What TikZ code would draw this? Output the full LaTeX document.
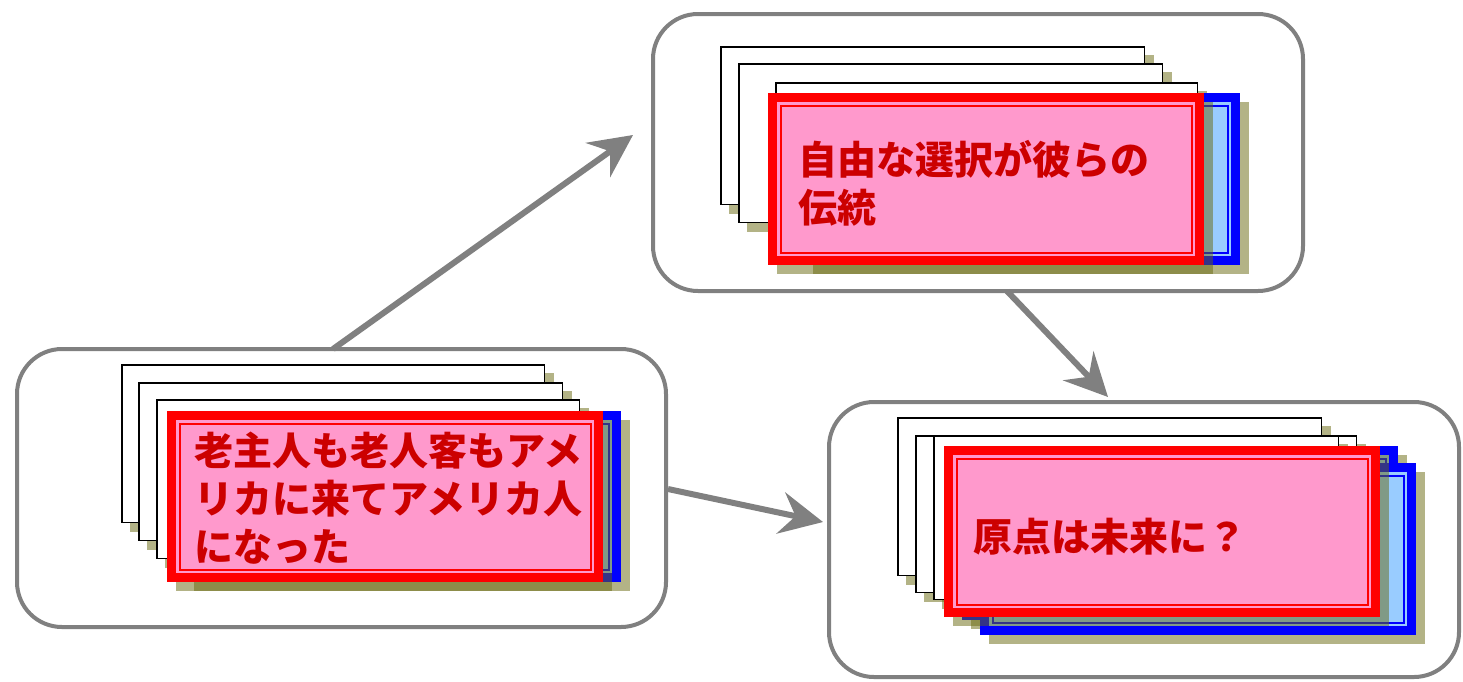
\documentclass[tikz,border=0pt]{standalone}
\usepackage{fontspec}
\newfontfamily\cjk{Noto Sans CJK JP}
\usetikzlibrary{arrows.meta}
\definecolor{cgray}{HTML}{808080}
\definecolor{shad}{RGB}{105,105,15}
\definecolor{pinkfill}{HTML}{FF99CC}
\definecolor{lblue}{HTML}{99CCFF}
\definecolor{txtred}{HTML}{CC0000}
\definecolor{bred}{HTML}{FF0000}
\definecolor{bblue}{HTML}{0000FF}
\newcommand\shd[4]{\fill[shadowfill] ({#1+9},{#2+9}) rectangle ({#3+9},{#4+9});}
\newcommand\wcard[4]{\shd{#1}{#2}{#3}{#4}%
  \draw[wcardst] ({#1+0.75},{#2+0.75}) rectangle ({#3-0.75},{#4-0.75});}
\newcommand\rcard[4]{\shd{#1}{#2}{#3}{#4}%
  \fill[pinkfill] (#1,#2) rectangle (#3,#4);
  \draw[bred,line width=9pt] ({#1+4.5},{#2+4.5}) rectangle ({#3-4.5},{#4-4.5});
  \draw[bred,line width=2pt] ({#1+12.5},{#2+12.5}) rectangle ({#3-12.5},{#4-12.5});}
\newcommand\bcard[4]{\shd{#1}{#2}{#3}{#4}%
  \fill[lblue] (#1,#2) rectangle (#3,#4);
  \draw[bblue,line width=9pt] ({#1+4.5},{#2+4.5}) rectangle ({#3-4.5},{#4-4.5});
  \draw[bblue,line width=2pt] ({#1+12.5},{#2+12.5}) rectangle ({#3-12.5},{#4-12.5});}
\begin{document}
\begin{tikzpicture}[x=1pt,y=-1pt,
  container/.style={draw=cgray,line width=4pt,rounded corners=45pt,fill=white,inner sep=0pt,outer sep=0pt},
  conn/.style={draw=cgray,line width=6pt,-{Stealth[length=43pt,width=42pt,inset=15pt]}},
  shadowfill/.style={fill=shad,opacity=0.5},
  wcardst/.style={fill=white,draw=black,line width=1.5pt},
  redtext/.style={text=txtred,font=\cjk\bfseries\fontsize{39}{48}\selectfont,align=left,inner sep=0pt,anchor=west}
]
\useasboundingbox (0,0) rectangle (1463,681);
\fill[white] (0,0) rectangle (1463,681);
% containers
\node[container,minimum width=650pt,minimum height=277pt] (ctop) at (978,152.5) {};
\node[container,minimum width=649pt,minimum height=278pt] (cleft) at (341.5,488) {};
\node[container,minimum width=630pt,minimum height=275pt] (cright) at (1144,539.5) {};
% connectors
\coordinate (a1s) at (333,349);
\coordinate (a1e) at (633,135);
\coordinate (a2s) at (668,489);
\coordinate (a2e) at (823,522);
\coordinate (a3s) at (1007,291);
\coordinate (a3e) at (1108,397);
\draw[conn] (a1s) -- (a1e);
\draw[conn] (a2s) -- (a2e);
\draw[conn] (a3s) -- (a3e);
% top stack
\wcard{720}{46}{1145}{205}
\wcard{738}{63}{1163}{223}
\wcard{775}{82}{1198}{240}
\bcard{804}{93}{1240}{265}
\rcard{768}{93}{1204}{265}
\node[redtext] (ttop) at (798,183) {自由な選択が彼らの\\伝統};
% left stack
\wcard{121}{364}{545}{523}
\wcard{138}{382}{563}{541}
\wcard{156}{399}{580}{559}
\bcard{185}{411}{621}{582}
\rcard{167}{411}{603}{582}
\node[redtext] (tleft) at (194,498) {老主人も老人客もアメ\\リカに来てアメリカ人\\になった};
% right stack
\wcard{897}{417}{1322}{576}
\wcard{915}{435}{1357}{593}
\wcard{933}{435}{1339}{600}
\bcard{962}{446}{1398}{620}
\bcard{980}{463}{1416}{635}
\rcard{944}{446}{1380}{617}
\node[redtext] (tright) at (973,537) {原点は未来に？};
\end{tikzpicture}
\end{document}
